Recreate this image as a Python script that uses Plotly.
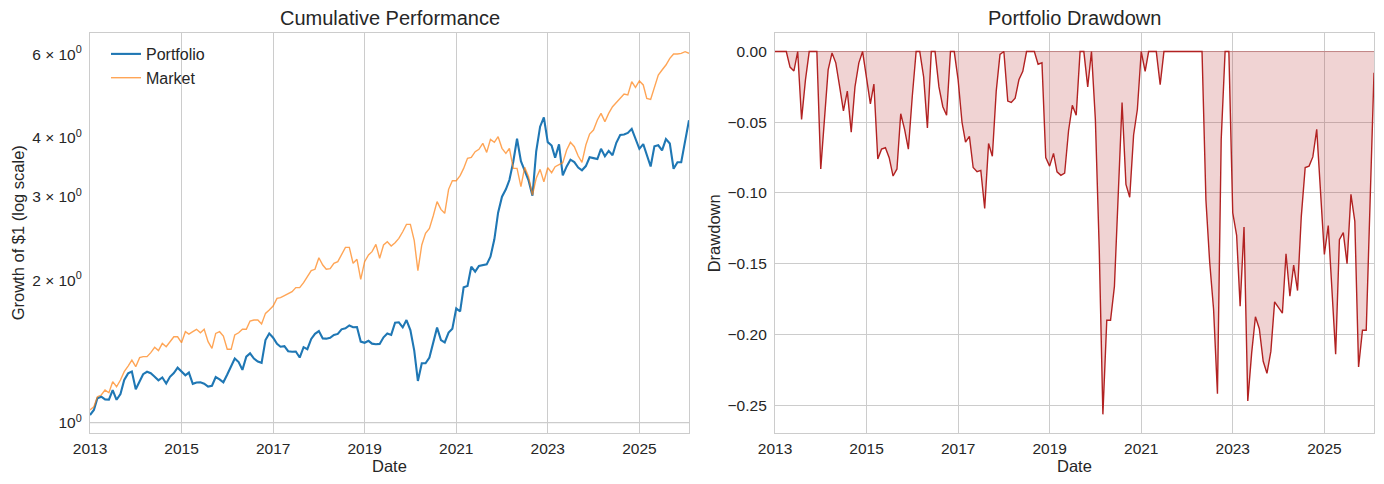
import pandas as pd
import plotly.graph_objects as go

# ---- data (monthly, Jan 2013 - Feb 2026) ----
start_month = "2013-01-01"

portfolio = [
    1.038, 1.064, 1.126, 1.135, 1.120, 1.119, 1.172, 1.118, 1.150, 1.231,
    1.271, 1.282, 1.177, 1.221, 1.266, 1.281, 1.272, 1.251, 1.229, 1.246,
    1.210, 1.250, 1.273, 1.307, 1.281, 1.259, 1.276, 1.208, 1.216, 1.217,
    1.209, 1.192, 1.197, 1.249, 1.235, 1.217, 1.264, 1.313, 1.367, 1.343,
    1.293, 1.379, 1.401, 1.366, 1.346, 1.338, 1.495, 1.544, 1.512, 1.468,
    1.447, 1.451, 1.416, 1.412, 1.414, 1.373, 1.444, 1.430, 1.503, 1.541,
    1.562, 1.506, 1.505, 1.511, 1.532, 1.540, 1.575, 1.583, 1.605, 1.591,
    1.593, 1.484, 1.475, 1.489, 1.469, 1.465, 1.467, 1.515, 1.543, 1.533,
    1.627, 1.630, 1.590, 1.648, 1.569, 1.420, 1.225, 1.335, 1.335, 1.373,
    1.483, 1.588, 1.494, 1.478, 1.550, 1.579, 1.744, 1.718, 1.932, 1.944,
    2.136, 2.085, 2.143, 2.150, 2.160, 2.242, 2.440, 2.778, 3.003, 3.112,
    3.256, 3.560, 3.981, 3.568, 3.395, 3.250, 3.018, 3.745, 4.221, 4.417,
    3.916, 3.850, 3.628, 3.873, 3.330, 3.480, 3.594, 3.552, 3.460, 3.414,
    3.485, 3.638, 3.622, 3.607, 3.790, 3.655, 3.752, 3.673, 3.903, 4.054,
    4.062, 4.094, 4.177, 3.999, 3.790, 3.877, 3.695, 3.478, 3.836, 3.856,
    3.760, 3.973, 3.889, 3.440, 3.550, 3.550, 3.935, 4.355,
]

market = [
    1.064, 1.081, 1.135, 1.144, 1.172, 1.157, 1.221, 1.191, 1.231, 1.282,
    1.317, 1.356, 1.313, 1.372, 1.379, 1.379, 1.406, 1.443, 1.420, 1.471,
    1.447, 1.483, 1.519, 1.519, 1.476, 1.557, 1.539, 1.557, 1.575, 1.549,
    1.575, 1.483, 1.436, 1.544, 1.557, 1.524, 1.429, 1.429, 1.532, 1.549,
    1.575, 1.575, 1.640, 1.648, 1.648, 1.616, 1.702, 1.730, 1.764, 1.831,
    1.837, 1.855, 1.876, 1.891, 1.929, 1.929, 1.976, 2.028, 2.095, 2.109,
    2.231, 2.153, 2.109, 2.115, 2.171, 2.189, 2.268, 2.346, 2.346, 2.171,
    2.214, 2.009, 2.189, 2.261, 2.298, 2.381, 2.225, 2.374, 2.412, 2.362,
    2.400, 2.452, 2.532, 2.624, 2.624, 2.424, 2.095, 2.374, 2.512, 2.574,
    2.734, 2.931, 2.823, 2.769, 3.112, 3.245, 3.245, 3.326, 3.446, 3.618,
    3.636, 3.737, 3.780, 3.892, 3.725, 3.968, 3.911, 4.021, 3.799, 3.707,
    3.799, 3.446, 3.446, 3.152, 3.463, 3.310, 3.027, 3.283, 3.429, 3.229,
    3.457, 3.375, 3.474, 3.514, 3.543, 3.768, 3.911, 3.830, 3.659, 3.548,
    3.861, 4.073, 4.153, 4.360, 4.503, 4.325, 4.503, 4.651, 4.743, 4.844,
    4.948, 4.924, 5.254, 5.111, 5.272, 5.171, 4.844, 4.821, 5.128, 5.427,
    5.561, 5.697, 5.885, 6.011, 6.011, 6.030, 6.079, 6.030,
]

drawdown = [
    0, 0, 0, 0, -0.011, -0.0137, 0, -0.048, -0.02, 0,
    0, 0, -0.083, -0.048, -0.013, -0.001, -0.008, -0.025, -0.042, -0.028,
    -0.057, -0.025, -0.008, 0, -0.02, -0.037, -0.023, -0.076, -0.069, -0.068,
    -0.075, -0.088, -0.083, -0.044, -0.055, -0.069, -0.032, 0, 0, -0.018,
    -0.054, 0, 0, -0.025, -0.039, -0.045, 0, 0, -0.02, -0.05,
    -0.064, -0.06, -0.082, -0.085, -0.084, -0.111, -0.065, -0.074, -0.028, -0.002,
    0, -0.035, -0.036, -0.033, -0.02, -0.014, 0, 0, 0, -0.009,
    -0.008, -0.075, -0.081, -0.072, -0.085, -0.0875, -0.086, -0.056, -0.038, -0.045,
    0, 0, -0.025, 0, -0.048, -0.14, -0.2565, -0.19, -0.19, -0.166,
    -0.10, -0.036, -0.094, -0.103, -0.059, -0.041, 0, -0.014, 0, 0,
    0, -0.0235, 0, 0, 0, 0, 0, 0, 0, 0,
    0, 0, 0, -0.105, -0.149, -0.182, -0.242, -0.062, 0, 0,
    -0.114, -0.13, -0.18, -0.124, -0.247, -0.213, -0.1875, -0.196, -0.219, -0.2275,
    -0.212, -0.177, -0.181, -0.185, -0.143, -0.173, -0.151, -0.169, -0.1165, -0.082,
    -0.081, -0.0745, -0.055, -0.095, -0.1435, -0.123, -0.166, -0.214, -0.133, -0.128,
    -0.15, -0.101, -0.12, -0.223, -0.197, -0.197, -0.106, -0.015,
]

log_tick_vals = [1, 2, 3, 4, 6]
log_tick_text = ["10<sup>0</sup>", "2 × 10<sup>0</sup>", "3 × 10<sup>0</sup>",
                 "4 × 10<sup>0</sup>", "6 × 10<sup>0</sup>"]
dd_tick_vals = [0.0, -0.05, -0.10, -0.15, -0.20, -0.25]
dd_tick_text = ["0.00", "−0.05", "−0.10", "−0.15", "−0.20", "−0.25"]

# ---- figure ----
W, H = 1384, 484
FONT = "Liberation Sans, Arial, sans-serif"
TXT = "#262626"
GRID = "#cccccc"
TICK = 15.5

dates = pd.date_range(start_month, periods=len(portfolio), freq="MS")

fig = go.Figure()
fig.add_trace(go.Scatter(x=dates, y=portfolio, name="Portfolio", mode="lines",
                         line=dict(color="#1f77b4", width=2.1),
                         xaxis="x", yaxis="y", legendgroup="a"))
fig.add_trace(go.Scatter(x=dates, y=market, name="Market", mode="lines",
                         line=dict(color="rgba(255,127,14,0.7)", width=1.4),
                         xaxis="x", yaxis="y", legendgroup="b"))
fig.add_trace(go.Scatter(x=dates, y=drawdown, name="Drawdown", mode="lines",
                         fill="tozeroy", fillcolor="rgba(178,34,34,0.2)",
                         line=dict(color="#b22222", width=1.4),
                         xaxis="x2", yaxis="y2", showlegend=False))

top_px, bot_px = 33.3, 433.3
ydom = [(H - bot_px) / H, (H - top_px) / H]
x1dom = [90 / W, 689 / W]
x2dom = [775 / W, 1374 / W]

common_x = dict(type="date", range=[dates[0], dates[-1]], tick0="2013-01-01",
                dtick="M24", tickformat="%Y", showgrid=True, gridcolor=GRID,
                gridwidth=1.2, showline=True, mirror=True, linecolor=GRID,
                linewidth=1.25, ticks="outside", ticklen=1,
                tickcolor="rgba(0,0,0,0)", zeroline=False, automargin=False,
                tickfont=dict(size=TICK, color=TXT, family=FONT))

fig.update_layout(
    width=W, height=H, autosize=False,
    margin=dict(l=0, r=0, t=0, b=0),
    paper_bgcolor="white", plot_bgcolor="white",
    font=dict(family=FONT, color=TXT),
    xaxis=dict(domain=x1dom, anchor="y", **common_x),
    xaxis2=dict(domain=x2dom, anchor="y2", **common_x),
    yaxis=dict(domain=ydom, anchor="x", type="log", range=[-0.0224, 0.8227],
               tickvals=log_tick_vals, ticktext=log_tick_text, showgrid=False,
               showline=True, mirror=True, linecolor=GRID, linewidth=1.25,
               ticks="outside", ticklen=4, tickcolor="rgba(0,0,0,0)",
               zeroline=False, automargin=False,
               tickfont=dict(size=TICK, color=TXT, family=FONT)),
    yaxis2=dict(domain=ydom, anchor="x2", range=[-0.2699, 0.0129],
                tickvals=dd_tick_vals, ticktext=dd_tick_text, showgrid=True,
                gridcolor=GRID, gridwidth=1.2, showline=True, mirror=True,
                linecolor=GRID, linewidth=1.25, ticks="outside", ticklen=4,
                tickcolor="rgba(0,0,0,0)", zeroline=False, automargin=False,
                tickfont=dict(size=TICK, color=TXT, family=FONT)),
    legend=dict(x=106 / W, y=(H - 37) / H, xanchor="left", yanchor="top",
                bgcolor="rgba(0,0,0,0)", font=dict(size=16, color=TXT, family=FONT),
                tracegroupgap=0),
    showlegend=True,
)

# gridline at the major log tick and the fill edge at zero drawdown
fig.add_shape(type="line", xref="x domain", yref="y", x0=0, x1=1, y0=1, y1=1,
              line=dict(color=GRID, width=1.2), layer="below")
fig.add_shape(type="line", xref="x2 domain", yref="y2", x0=0, x1=1, y0=0, y1=0,
              line=dict(color="rgba(178,34,34,0.35)", width=1), layer="above")

cx1 = (x1dom[0] + x1dom[1]) / 2
cx2 = (x2dom[0] + x2dom[1]) / 2
ymid = (ydom[0] + ydom[1]) / 2
ann = [
    dict(text="Cumulative Performance", x=cx1, y=(H - 17.5) / H, size=20, angle=0),
    dict(text="Portfolio Drawdown", x=cx2, y=(H - 17.5) / H, size=20, angle=0),
    dict(text="Date", x=cx1, y=(H - 466) / H, size=16.5, angle=0),
    dict(text="Date", x=cx2, y=(H - 466) / H, size=16.5, angle=0),
    dict(text="Growth of $1 (log scale)", x=18 / W, y=ymid, size=16.5, angle=-90),
    dict(text="Drawdown", x=714 / W, y=ymid, size=16.5, angle=-90),
]
for a in ann:
    fig.add_annotation(text=a["text"], x=a["x"], y=a["y"], xref="paper", yref="paper",
                       xanchor="center", yanchor="middle", showarrow=False,
                       textangle=a["angle"],
                       font=dict(size=a["size"], color=TXT, family=FONT))

fig.write_html("out.html",
               config={"displayModeBar": False},
               post_script="document.body.style.margin='0';document.body.style.overflow='hidden';")
